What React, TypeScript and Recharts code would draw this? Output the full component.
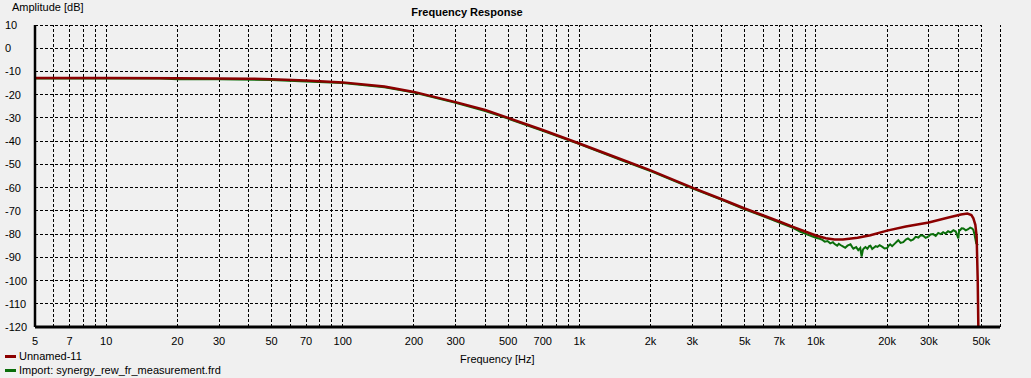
import React from 'react';
import { LineChart, Line, XAxis, YAxis, ReferenceLine } from 'recharts';

// ---- data ----
const seriesNames = ['Unnamed-11', 'Import: synergy_rew_fr_measurement.frd'];
const seriesColors = ['#8b0000', '#0a6e0a'];

const simFreq = [5, 10, 20, 30, 40, 50, 70, 100, 150, 200, 300, 400, 500, 700, 1000, 1500, 2000, 3000, 4000, 5000, 6000, 7000, 8000, 9000, 10000, 11000, 12000, 13000, 15000, 17000, 20000, 24000, 30000, 36000, 41000, 43700, 45400, 46300, 47200, 47800, 48300, 48600];
const simDb = [-12.8, -12.8, -12.9, -13.0, -13.1, -13.3, -13.9, -14.7, -16.5, -18.8, -23.2, -26.6, -30.0, -35.2, -41.0, -47.8, -52.6, -60.0, -65.0, -69.0, -72.0, -74.6, -76.9, -78.9, -80.6, -81.8, -82.3, -82.3, -81.6, -80.5, -78.5, -76.7, -75.0, -73.0, -71.6, -71.2, -71.8, -73.2, -76.0, -81.0, -100.0, -120.0];

const measFreq = [5, 10, 17, 20, 30, 50, 70, 100, 150, 200, 300, 400, 500, 700, 1000, 1500, 2000, 3000, 4000, 5000, 6000, 7000, 8000, 8600, 9000, 9500, 10000, 10400, 10700, 10900, 11200, 11500, 11800, 12000, 12300, 12500, 12700, 13000, 13300, 13600, 14000, 14200, 14400, 14800, 15100, 15400, 15600, 15800, 15900, 16200, 16500, 16800, 17000, 17300, 17500, 17900, 18200, 18600, 19100, 19500, 20000, 20300, 20600, 21000, 21600, 22000, 22300, 22800, 23400, 24000, 24500, 25200, 25800, 26400, 27100, 27700, 28400, 29100, 29800, 30500, 31300, 32100, 32900, 33700, 34500, 35300, 36200, 37100, 38100, 39000, 40000, 40300, 40700, 41300, 42000, 43000, 44000, 44900, 45800, 46300, 46700, 47200, 47600, 48100, 48500];
const measDb = [-13.0, -13.0, -13.0, -13.3, -13.4, -13.7, -14.3, -15.0, -16.8, -19.1, -23.5, -27.0, -30.3, -35.5, -41.3, -48.1, -52.9, -60.3, -65.3, -69.3, -72.3, -75.0, -77.3, -79.0, -79.8, -80.7, -81.6, -82.0, -82.6, -83.3, -83.0, -84.0, -83.5, -84.3, -85.0, -84.2, -84.7, -85.3, -85.9, -85.0, -84.4, -85.4, -86.3, -85.6, -86.9, -86.0, -89.7, -86.8, -86.3, -85.6, -86.3, -85.2, -85.0, -86.4, -86.0, -85.2, -85.5, -84.8, -85.5, -86.2, -86.0, -85.0, -84.4, -85.2, -84.0, -83.2, -82.6, -83.8, -83.5, -82.4, -81.9, -82.8, -82.3, -81.2, -81.5, -80.5, -80.7, -81.6, -81.1, -80.2, -80.0, -80.8, -79.5, -80.0, -79.2, -79.8, -78.8, -79.3, -78.3, -78.9, -81.9, -78.3, -78.3, -77.5, -77.6, -78.4, -77.9, -77.2, -77.6, -78.2, -79.7, -82.0, -84.0, -84.5, -84.8];

const xTicks = [5, 7, 10, 20, 30, 50, 70, 100, 200, 300, 500, 700, 1000, 2000, 3000, 5000, 7000, 10000, 20000, 30000, 50000];
const yTicks = [10, 0, -10, -20, -30, -40, -50, -60, -70, -80, -90, -100, -110, -120];
const xGrid = [5, 6, 7, 8, 9, 10, 20, 30, 40, 50, 60, 70, 80, 90, 100, 200, 300, 400, 500, 600, 700, 800, 900, 1000, 2000, 3000, 4000, 5000, 6000, 7000, 8000, 9000, 10000, 20000, 30000, 40000, 50000, 60000];
const yGrid = [10, 0, -10, -20, -30, -40, -50, -60, -70, -80, -90, -100, -110];

const simData = simFreq.map((f, i) => ({ f, v: simDb[i] }));
const measData = measFreq.map((f, i) => ({ f, v: measDb[i] }));

const FONT = "'Liberation Sans', Arial, sans-serif";

const fmtX = (v: number) => (v >= 1000 ? `${v / 1000}k` : `${v}`);

const XTick = (props: any) => {
  const { x, y, payload } = props;
  return (
    <text x={x} y={y + 18} textAnchor="middle" fontSize={11} fontFamily={FONT} fill="#000">
      {fmtX(payload.value)}
    </text>
  );
};

const YTick = (props: any) => {
  const { y, payload } = props;
  return (
    <text x={5} y={y + 4} textAnchor="start" fontSize={11} fontFamily={FONT} fill="#000">
      {payload.value}
    </text>
  );
};

export default function App() {
  return (
    <div style={{ position: 'fixed', left: 0, top: 0, width: 1031, height: 378, background: '#f0f0f0', fontFamily: FONT, overflow: 'hidden' }}>
      <LineChart width={1031} height={378} margin={{ top: 25, right: 31, bottom: 0, left: 0 }}>
        <XAxis
          dataKey="f"
          type="number"
          scale="log"
          domain={[5, 60000]}
          ticks={xTicks}
          tick={<XTick />}
          tickLine={false}
          tickSize={0}
          tickMargin={0}
          height={51}
          axisLine={{ stroke: '#000', strokeWidth: 3 }}
          allowDataOverflow
          interval={0}
        />
        <YAxis
          type="number"
          domain={[-120, 10]}
          ticks={yTicks}
          tick={<YTick />}
          tickLine={false}
          tickSize={0}
          width={35}
          axisLine={{ stroke: '#000', strokeWidth: 2.5 }}
          allowDataOverflow
          interval={0}
        />
        {xGrid.map((g) => (
          <ReferenceLine key={'vx' + g} x={g} stroke="#000" strokeWidth={1} strokeDasharray="3 2" shapeRendering="crispEdges" ifOverflow="visible" />
        ))}
        {yGrid.map((g) => (
          <ReferenceLine
            key={'hy' + g}
            segment={[{ x: 5, y: g }, { x: 50000, y: g }]}
            stroke="#000"
            strokeWidth={1}
            strokeDasharray="3 2"
            shapeRendering="crispEdges"
            ifOverflow="visible"
          />
        ))}
        <Line data={measData} dataKey="v" type="linear" stroke={seriesColors[1]} strokeWidth={2} dot={false} isAnimationActive={false} />
        <Line data={simData} dataKey="v" type="linear" stroke={seriesColors[0]} strokeWidth={2.5} dot={false} isAnimationActive={false} />
      </LineChart>

      <div style={{ position: 'absolute', left: 12, top: 0, fontSize: 11, lineHeight: '14px', color: '#000' }}>Amplitude [dB]</div>
      <div style={{ position: 'absolute', left: 467, top: 5, transform: 'translateX(-50%)', fontSize: 11, fontWeight: 'bold', lineHeight: '14px', color: '#000', whiteSpace: 'nowrap' }}>
        Frequency Response
      </div>
      <div style={{ position: 'absolute', left: 460, top: 352, fontSize: 11, lineHeight: '14px', color: '#000' }}>Frequency [Hz]</div>
      {seriesNames.map((name, i) => (
        <div key={name} style={{ position: 'absolute', left: 5, top: 349 + i * 14, height: 14, display: 'flex', alignItems: 'center', fontSize: 11, color: '#000', whiteSpace: 'nowrap' }}>
          <span style={{ display: 'inline-block', width: 11, height: 3, background: seriesColors[i], marginRight: 3 }} />
          <span>{name}</span>
        </div>
      ))}
    </div>
  );
}
